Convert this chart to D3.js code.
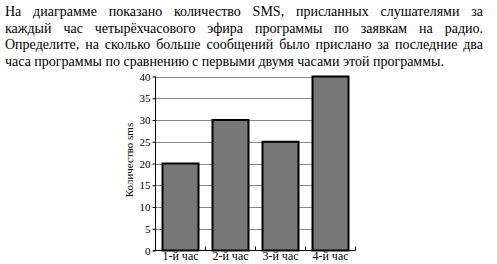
<!DOCTYPE html>
<html>
<head>
<meta charset="utf-8">
<script src="https://cdn.jsdelivr.net/npm/d3@7"></script>
<style>
  html, body { margin: 0; padding: 0; background: #fff; }
  #wrap { position: relative; width: 497px; height: 264px; overflow: hidden; }
  .line { position: absolute; left: 5px; width: 478px; font-family: "Liberation Serif", "Times New Roman", serif;
          font-size: 14px; line-height: 16px; white-space: nowrap; color: #000; text-align: justify; text-align-last: justify; }
  .line.last { text-align: left; text-align-last: left; }
  svg { position: absolute; left: 0; top: 0; }
  svg text { font-family: "Liberation Serif", "Times New Roman", serif; }
</style>
</head>
<body>
<div id="wrap"></div>
<script>
// Task text, one entry per printed line
const textLines = [
  "На диаграмме показано количество SMS, присланных слушателями за",
  "каждый час четырёхчасового эфира программы по заявкам на радио.",
  "Определите, на сколько больше сообщений было прислано за последние два",
  "часа программы по сравнению с первыми двумя часами этой программы."
];

// Chart data
const hours = ["1-й час", "2-й час", "3-й час", "4-й час"];
const smsCounts = [20, 30, 25, 40];
const yTicks = [0, 5, 10, 15, 20, 25, 30, 35, 40];
const yTitle = "Количество sms";

const W = 497, H = 264;
const wrap = d3.select("#wrap");

wrap.selectAll("div.line")
  .data(textLines)
  .join("div")
  .attr("class", (d, i) => i === textLines.length - 1 ? "line last" : "line")
  .style("top", (d, i) => (4 + i * 16.5) + "px")
  .text(d => d);

const svg = wrap.append("svg").attr("width", W).attr("height", H);

const x0 = 155.5, x1 = 355.5, yBottom = 250.5, yTop = 76.5;

const x = d3.scaleBand()
  .domain(hours)
  .range([x0, x1])
  .paddingInner(0.28)
  .paddingOuter(0.14);

const y = d3.scaleLinear()
  .domain([0, 40])
  .range([yBottom, yTop]);

const font = "Liberation Serif, Times New Roman, serif";

// horizontal grid lines, running up to the right side of the last bar
const gridEnd = x(hours[hours.length - 1]) + x.bandwidth();
svg.append("g")
  .selectAll("line")
  .data(yTicks.filter(t => t > 0))
  .join("line")
  .attr("x1", x0).attr("x2", gridEnd)
  .attr("y1", d => Math.round(y(d)) + 0.5).attr("y2", d => Math.round(y(d)) + 0.5)
  .attr("stroke", "#8a8a8a")
  .attr("stroke-width", 1);

// bars
svg.append("g")
  .selectAll("rect")
  .data(smsCounts)
  .join("rect")
  .attr("x", (d, i) => x(hours[i]))
  .attr("y", d => y(d))
  .attr("width", x.bandwidth())
  .attr("height", d => yBottom - y(d))
  .attr("fill", "#777777")
  .attr("stroke", "#000")
  .attr("stroke-width", 2);

// y axis
const yAxis = d3.axisLeft(y).tickValues(yTicks).tickSize(3).tickPadding(2);
const gy = svg.append("g")
  .attr("transform", `translate(${x0},0)`)
  .call(yAxis);
gy.attr("font-family", null);
gy.select(".domain").attr("stroke", "#000").attr("d", `M0,${yBottom}V${yTop}`);
gy.selectAll(".tick line").attr("stroke", "#000");
gy.selectAll(".tick text")
  .style("font-family", font)
  .style("font-size", "11px")
  .attr("fill", "#000");

// x axis: baseline with small inward marks at category boundaries
const gx = svg.append("g").attr("transform", `translate(0,${yBottom})`);
gx.append("line")
  .attr("x1", x0 - 2).attr("x2", x1)
  .attr("y1", 0).attr("y2", 0)
  .attr("stroke", "#000");
const step = x.step();
gx.selectAll("line.sep")
  .data(hours)
  .join("line")
  .attr("class", "sep")
  .attr("x1", (d, i) => x0 + (i + 1) * step)
  .attr("x2", (d, i) => x0 + (i + 1) * step)
  .attr("y1", 0).attr("y2", -4)
  .attr("stroke", "#000");
gx.selectAll("text")
  .data(hours)
  .join("text")
  .attr("x", d => x(d) + x.bandwidth() / 2)
  .attr("y", 9.5)
  .attr("text-anchor", "middle")
  .style("font-family", font)
  .style("font-size", "12px")
  .attr("fill", "#000")
  .text(d => d);

// y axis title
svg.append("text")
  .attr("transform", `translate(133,160) rotate(-90)`)
  .attr("text-anchor", "middle")
  .style("font-family", font)
  .style("font-size", "11px")
  .attr("fill", "#000")
  .text(yTitle);
</script>
</body>
</html>
